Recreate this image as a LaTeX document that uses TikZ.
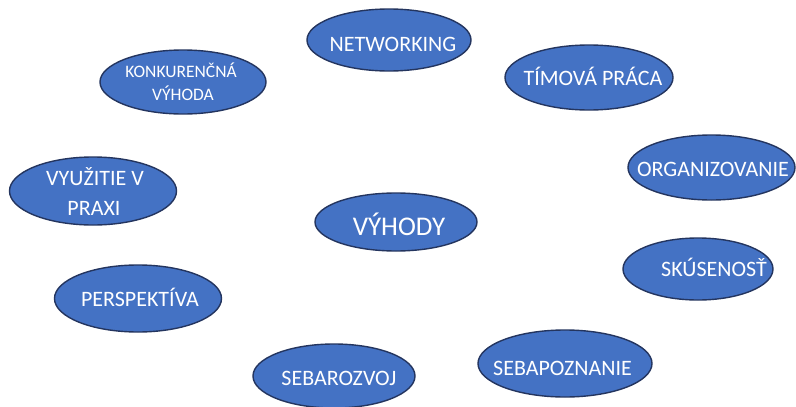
\documentclass[tikz,border=0pt]{standalone}
\usepackage{fontspec}
\setmainfont{Carlito}
\usetikzlibrary{shapes.geometric}
\definecolor{bubblefill}{HTML}{4472C4}
\definecolor{bubbleline}{HTML}{24355F}
\tikzset{
  bubble/.style={ellipse, draw=bubbleline, line width=1.4pt, fill=bubblefill, inner sep=0pt},
  word/.style={text=white, anchor=base, inner sep=0pt, font=\fontsize{22}{26}\selectfont},
  smallword/.style={word, font=\fontsize{17.5}{21}\selectfont},
  bigword/.style={word, font=\fontsize{27}{32}\selectfont}
}
\begin{document}
\begin{tikzpicture}[x=1pt,y=-1pt]
\useasboundingbox (0,0) rectangle (796,407);
\fill[white] (0,0) rectangle (796,407);
% ellipses
\node[bubble, minimum width=164pt, minimum height=62pt] (net) at (389,40) {};
\node[bubble, minimum width=166pt, minimum height=64pt] (konk) at (183,82) {};
\node[bubble, minimum width=168pt, minimum height=65pt] (tim) at (589,77.5) {};
\node[bubble, minimum width=167pt, minimum height=65pt] (org) at (711.5,167.5) {};
\node[bubble, minimum width=167pt, minimum height=68pt] (vyu) at (93,191) {};
\node[bubble, minimum width=162pt, minimum height=58pt] (vyh) at (396,222) {};
\node[bubble, minimum width=150pt, minimum height=62pt] (sku) at (698,269) {};
\node[bubble, minimum width=167pt, minimum height=67pt] (per) at (138,298.5) {};
\node[bubble, minimum width=162pt, minimum height=64pt] (sbr) at (334,376) {};
\node[bubble, minimum width=174pt, minimum height=67pt] (sbp) at (565,363.5) {};
% texts
\node[word] (tnet) at (393,51.5) {NETWORKING};
\node[smallword] (tkonk1) at (181,77) {KONKURENČNÁ};
\node[smallword] (tkonk2) at (183,100) {VÝHODA};
\node[word] (ttim) at (593,85) {TÍMOVÁ PRÁCA};
\node[word] (torg) at (713,176.5) {ORGANIZOVANIE};
\node[word] (tvyu1) at (95,185) {VYUŽITIE V};
\node[word] (tvyu2) at (94,215) {PRAXI};
\node[bigword] (tvyh) at (399,235) {VÝHODY};
\node[word] (tsku) at (714,276.5) {SKÚSENOSŤ};
\node[word] (tper) at (140,306.5) {PERSPEKTÍVA};
\node[word] (tsbr) at (339,385) {SEBAROZVOJ};
\node[word] (tsbp) at (562.5,375) {SEBAPOZNANIE};
\end{tikzpicture}
\end{document}
